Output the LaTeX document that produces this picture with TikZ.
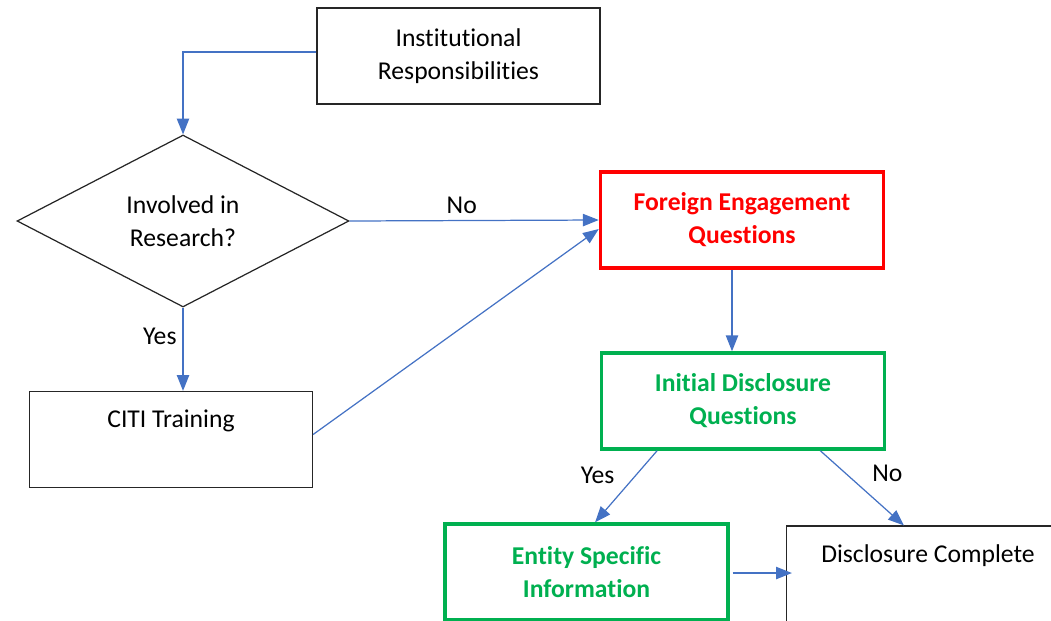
\documentclass[tikz,border=0pt]{standalone}
\usepackage{fontspec}
\setmainfont{Carlito}[Ligatures=NoCommon]
\usetikzlibrary{shapes.geometric,arrows.meta,calc}

\definecolor{flowblue}{HTML}{4472C4}
\definecolor{qgreen}{HTML}{00B050}

\tikzset{
  txt/.style={font=\fontsize{14.6}{18.7}\selectfont},
  plainbox/.style={txt, draw=black!85, line width=0.7pt, rectangle, align=center,
    minimum width=5.66cm, minimum height=1.92cm, inner sep=0pt},
  redbox/.style={plainbox, draw=red, line width=2pt, text=red, font=\fontsize{14.6}{18.7}\selectfont\bfseries},
  greenbox/.style={plainbox, draw=qgreen, line width=2pt, text=qgreen, font=\fontsize{14.6}{18.7}\selectfont\bfseries},
  decision/.style={txt, draw=black!85, line width=0.7pt, diamond, align=center,
    minimum width=6.64cm, minimum height=3.44cm, inner sep=0pt},
  flow/.style={draw=flowblue, line width=0.7pt, -{Triangle[length=9pt,width=7pt]}},
  lbl/.style={txt}
}

\begin{document}
\begin{tikzpicture}[x=0.02cm, y=-0.02cm]
  \useasboundingbox (0,0) rectangle (1051,620);
  \clip (0,0) rectangle (1051,620);

  %% boxes
  \node[plainbox] (inst) at (458.5,56) {Institutional\\Responsibilities};
  \node[decision] (dec) at (183,221) {Involved in\\Research?};
  \node[redbox] (fe) at (742,220) {Foreign Engagement\\Questions};
  \node[plainbox] (citi) at (171,439.5) {CITI Training\\[5pt] \mbox{}};
  \node[greenbox] (idq) at (743,401) {Initial Disclosure\\Questions};
  \node[greenbox] (esi) at (586.5,572) {Entity Specific\\Information};
  \node[plainbox] (dc) at (928,574) {Disclosure Complete\\[4pt] \mbox{}};

  %% top part
  \draw[flow] ($(inst.west)+(0,-4)$) -| (dec.north);
  \draw[flow] (dec.east) -- node[lbl, above, pos=0.45] {No} (fe.west);
  \draw[flow] (dec.south) -- node[lbl, left, pos=0.35] {Yes} (dec.south |- citi.north);
  \draw[flow] ($(citi.east)+(0,-5)$) -- ($(fe.west)+(0,9)$);

  %% questions
  \draw[flow] ($(fe.south)+(-10,0)$) -- ($(idq.north)+(-11,0)$);
  \draw[flow] ($(idq.south west)!0.2!(idq.south east)$) -- node[lbl, left, pos=0.3, xshift=-10pt, yshift=-2pt] {Yes}
    ($(esi.north west)!0.53!(esi.north east)$);
  \draw[flow] ($(idq.south west)!0.77!(idq.south east)$) -- node[lbl, right, pos=0.25, xshift=14pt, yshift=-2pt] {No}
    ($(dc.north west)!0.415!(dc.north east)$);
  \draw[flow] ($(esi.east)+(3,1)$) -- ($(esi.east -| dc.west)+(6,1)$);
\end{tikzpicture}
\end{document}
